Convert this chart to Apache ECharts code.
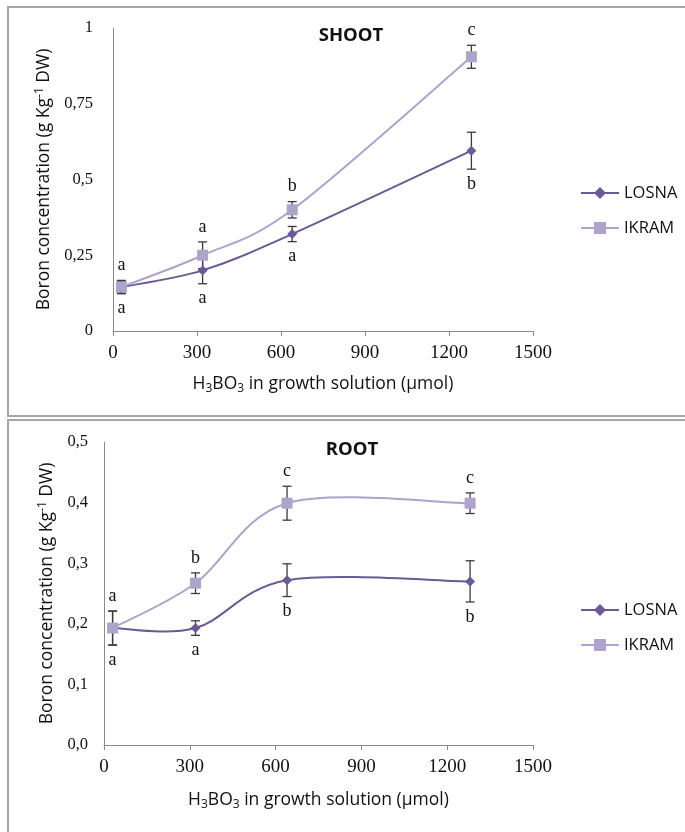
<!DOCTYPE html>
<html>
<head>
<meta charset="utf-8">
<script src="https://cdn.jsdelivr.net/npm/echarts@6/dist/echarts.min.js"></script>
<style>
  html, body { margin: 0; padding: 0; background: #ffffff; }
  #chart { width: 685px; height: 832px; }
</style>
</head>
<body>
<div id="chart"></div>
<script>
// H3BO3 doses in the growth solution (µmol)
const doses = [30, 320, 640, 1280];

// Shoot boron concentration (g kg-1 DW), mean and error
const shootLosna = [0.145, 0.20, 0.32, 0.595];
const shootLosnaErr = [0.02, 0.044, 0.025, 0.061];
const shootIkram = [0.145, 0.25, 0.40, 0.905];
const shootIkramErr = [0.022, 0.044, 0.027, 0.038];
const shootLosnaLetters = ['a', 'a', 'a', 'b'];
const shootIkramLetters = ['a', 'a', 'b', 'c'];

// Root boron concentration (g kg-1 DW), mean and error
const rootLosna = [0.193, 0.193, 0.272, 0.270];
const rootLosnaErr = [0.028, 0.012, 0.027, 0.034];
const rootIkram = [0.193, 0.267, 0.399, 0.399];
const rootIkramErr = [0.028, 0.017, 0.028, 0.017];
const rootLosnaLetters = ['a', 'a', 'b', 'b'];
const rootIkramLetters = ['a', 'b', 'c', 'c'];

// Axis ticks
const xTicks = [0, 300, 600, 900, 1200, 1500];
const shootTicks = [0, 0.25, 0.5, 0.75, 1];
const rootTicks = [0, 0.1, 0.2, 0.3, 0.4, 0.5];

const LOSNA_COLOR = '#6B5A94';
const IKRAM_COLOR = '#ADA3CB';
const AXIS_COLOR = '#8a8a8a';
const BAR_COLOR = '#3a3a3a';
const SANS = "'Open Sans', 'Noto Sans', sans-serif";
const SERIF = "'Liberation Serif', 'DejaVu Serif', serif";

function pts(values) {
  return doses.map((d, i) => [d, values[i]]);
}

// Smoothed curve: cubic Bézier segments with Catmull-Rom control points
function curve(values, color, gi) {
  const n = values.length;
  return {
    type: 'custom',
    xAxisIndex: gi,
    yAxisIndex: gi,
    z: 2,
    silent: true,
    data: pts(values),
    renderItem(params, api) {
      const i = params.dataIndex;
      if (i >= n - 1) return null;
      const P = k => {
        const j = Math.max(0, Math.min(n - 1, k));
        return api.coord([doses[j], values[j]]);
      };
      const p0 = P(i - 1), p1 = P(i), p2 = P(i + 1), p3 = P(i + 2);
      return {
        type: 'bezierCurve',
        shape: {
          x1: p1[0], y1: p1[1], x2: p2[0], y2: p2[1],
          cpx1: p1[0] + (p2[0] - p0[0]) / 6,
          cpy1: p1[1] + (p2[1] - p0[1]) / 6,
          cpx2: p2[0] - (p3[0] - p1[0]) / 6,
          cpy2: p2[1] - (p3[1] - p1[1]) / 6
        },
        style: { stroke: color, lineWidth: 2, fill: 'none' }
      };
    }
  };
}

// Error bars with the significance letter beyond the cap
function errorBars(values, errs, letters, side, gi) {
  return {
    type: 'custom',
    xAxisIndex: gi,
    yAxisIndex: gi,
    z: 1,
    silent: true,
    data: doses.map((d, i) => [d, values[i], errs[i]]),
    renderItem(params, api) {
      const x = api.value(0), y = api.value(1), e = api.value(2);
      const hi = api.coord([x, y + e]);
      const lo = api.coord([x, y - e]);
      const cx = hi[0], w = 4.5;
      const ty = side === 'above' ? hi[1] - 15 : lo[1] + 15;
      const st = { stroke: BAR_COLOR, lineWidth: 1.3 };
      return {
        type: 'group',
        children: [
          { type: 'line', shape: { x1: cx, y1: hi[1], x2: cx, y2: lo[1] }, style: st },
          { type: 'line', shape: { x1: cx - w, y1: hi[1], x2: cx + w, y2: hi[1] }, style: st },
          { type: 'line', shape: { x1: cx - w, y1: lo[1], x2: cx + w, y2: lo[1] }, style: st },
          {
            type: 'text',
            x: cx, y: ty,
            style: {
              text: letters[params.dataIndex],
              align: 'center',
              verticalAlign: 'middle',
              fontFamily: SERIF,
              fontSize: 18,
              fill: '#111'
            }
          }
        ]
      };
    }
  };
}

function markers(name, values, color, symbol, size, gi) {
  return {
    name,
    type: 'line',
    xAxisIndex: gi,
    yAxisIndex: gi,
    data: pts(values),
    symbol,
    symbolSize: size,
    showSymbol: true,
    lineStyle: { opacity: 0 },
    itemStyle: { color, borderWidth: 0 },
    z: 3,
    silent: true
  };
}

function xAxisFor(gi) {
  return {
    type: 'value',
    gridIndex: gi,
    min: xTicks[0],
    max: xTicks[xTicks.length - 1],
    interval: xTicks[1] - xTicks[0],
    axisLine: { show: true, onZero: false, lineStyle: { color: AXIS_COLOR, width: 1 } },
    axisTick: { show: true, length: 5, lineStyle: { color: AXIS_COLOR } },
    splitLine: { show: false },
    axisLabel: {
      fontFamily: SERIF, fontSize: 19, color: '#111', margin: 13,
      formatter: v => String(v)
    },
    name: '{t|H}{sub|3}{t|BO}{sub|3}{t| in growth solution (µmol)}',
    nameLocation: 'middle',
    nameGap: gi === 0 ? 42 : 44,
    nameTextStyle: {
      rich: {
        t: { fontFamily: SANS, fontSize: 17.5, color: '#111', lineHeight: 22, verticalAlign: 'middle' },
        sub: { fontFamily: SANS, fontSize: 12, color: '#111', lineHeight: 11, verticalAlign: 'bottom' }
      }
    }
  };
}

function yAxisFor(gi, ticks, digits, margin, gap) {
  return {
    type: 'value',
    gridIndex: gi,
    min: ticks[0],
    max: ticks[ticks.length - 1],
    interval: ticks[1] - ticks[0],
    axisLine: { show: true, lineStyle: { color: AXIS_COLOR, width: 1 } },
    axisTick: { show: false },
    splitLine: { show: false },
    axisLabel: {
      fontFamily: SERIF, fontSize: 16.5, color: '#111', margin,
      formatter: v => (digits == null ? String(+v.toFixed(2)) : v.toFixed(digits)).replace('.', ',')
    },
    name: '{t|Boron concentration (g Kg}{sup|-1}{t| DW)}',
    nameLocation: 'middle',
    nameRotate: 90,
    nameGap: gap,
    nameTextStyle: {
      rich: {
        t: { fontFamily: SANS, fontSize: 17.5, color: '#111', lineHeight: 22, verticalAlign: 'middle' },
        sup: { fontFamily: SANS, fontSize: 12, color: '#111', lineHeight: 11, verticalAlign: 'top' }
      }
    }
  };
}

function legendFor(top) {
  return {
    orient: 'vertical',
    left: 580,
    top,
    padding: 0,
    itemWidth: 38,
    itemHeight: 15,
    itemGap: 15,
    selectedMode: false,
    data: [
      { name: 'LOSNA', lineStyle: { opacity: 1, width: 2, color: LOSNA_COLOR } },
      { name: 'IKRAM', lineStyle: { opacity: 1, width: 2, color: IKRAM_COLOR } }
    ],
    textStyle: { fontFamily: SANS, fontSize: 16.5, color: '#111', lineHeight: 20 }
  };
}

const chart = echarts.init(document.getElementById('chart'));

chart.setOption({
  animation: false,
  backgroundColor: '#ffffff',
  grid: [
    { left: 113, top: 28, width: 420, height: 303 },
    { left: 104, top: 442, width: 429, height: 303 }
  ],
  xAxis: [xAxisFor(0), xAxisFor(1)],
  yAxis: [
    yAxisFor(0, shootTicks, null, 20, 54),
    yAxisFor(1, rootTicks, 1, 16, 45)
  ],
  legend: [legendFor(183), legendFor(600)],
  graphic: [
    { type: 'rect', shape: { x: 8, y: 7, width: 720, height: 409 }, style: { fill: 'none', stroke: '#a6a6a6', lineWidth: 2 }, silent: true },
    { type: 'rect', shape: { x: 8, y: 420, width: 720, height: 440 }, style: { fill: 'none', stroke: '#a6a6a6', lineWidth: 2 }, silent: true },
    { type: 'text', x: 351, y: 36, style: { text: 'SHOOT', align: 'center', verticalAlign: 'middle', fontFamily: SANS, fontWeight: 'bold', fontSize: 18.5, fill: '#111' } },
    { type: 'text', x: 352, y: 450, style: { text: 'ROOT', align: 'center', verticalAlign: 'middle', fontFamily: SANS, fontWeight: 'bold', fontSize: 18.5, fill: '#111' } }
  ],
  series: [
    errorBars(shootLosna, shootLosnaErr, shootLosnaLetters, 'below', 0),
    errorBars(shootIkram, shootIkramErr, shootIkramLetters, 'above', 0),
    curve(shootLosna, LOSNA_COLOR, 0),
    curve(shootIkram, IKRAM_COLOR, 0),
    markers('LOSNA', shootLosna, LOSNA_COLOR, 'diamond', 10, 0),
    markers('IKRAM', shootIkram, IKRAM_COLOR, 'rect', 11, 0),

    errorBars(rootLosna, rootLosnaErr, rootLosnaLetters, 'below', 1),
    errorBars(rootIkram, rootIkramErr, rootIkramLetters, 'above', 1),
    curve(rootLosna, LOSNA_COLOR, 1),
    curve(rootIkram, IKRAM_COLOR, 1),
    markers('LOSNA', rootLosna, LOSNA_COLOR, 'diamond', 10, 1),
    markers('IKRAM', rootIkram, IKRAM_COLOR, 'rect', 11, 1)
  ]
});
</script>
</body>
</html>
